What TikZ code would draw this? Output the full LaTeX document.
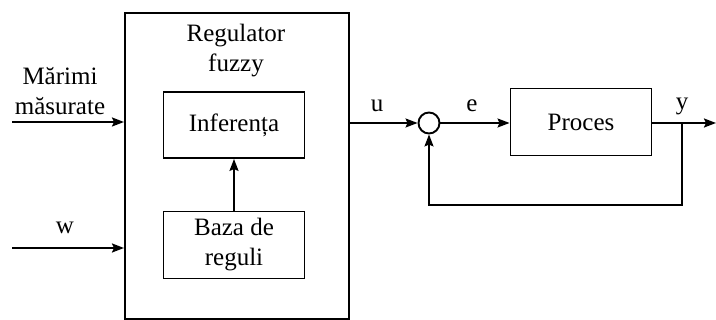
\documentclass[tikz,border=0pt]{standalone}
\usepackage{fontspec}
\setmainfont{Liberation Serif}
\usetikzlibrary{arrows.meta,positioning}
\begin{document}
\begin{tikzpicture}[x=1pt,y=-1pt,
  every node/.style={font=\fontsize{25}{30}\selectfont, inner sep=0pt},
  blk/.style={draw, line width=1.9pt},
  lbl/.style={align=center},
  conn/.style={line width=1.9pt},
  arr/.style={conn, -{Stealth[length=12pt,width=9pt,inset=2pt]}}]
\useasboundingbox (0,0) rectangle (716,320);
% big regulator box
\node[blk, minimum width=224pt, minimum height=306pt, anchor=north west] (reg) at (124,12) {};
\node[lbl] (title) at (236,51) {Regulator\\fuzzy};
\node[blk, minimum width=141pt, minimum height=66pt] (inf) at (234,125) {Inferența};
\node[blk, minimum width=141pt, minimum height=67pt, align=center] (baza) at (234,245) {Baza de\\reguli};
\draw[arr] (baza.north) -- (inf.south);
% inputs
\node[lbl] (mm) at (60,91) {Mărimi\\măsurate};
\coordinate (in1) at (12,122);
\draw[arr] (in1) -- (in1 -| reg.west);
\node (w) at (65,228) {w};
\coordinate (in2) at (12,248);
\draw[arr] (in2) -- (in2 -| reg.west);
% loop
\node[draw, circle, line width=1.9pt, minimum size=21pt] (sum) at (429,123) {};
\node[blk, minimum width=141pt, minimum height=67pt] (proc) at (581,122) {Proces};
\draw[arr] (sum.west -| reg.east) -- (sum.west);
\node (u) at (377,106) {u};
\draw[arr] (sum.east) -- (sum.east -| proc.west);
\node (e) at (472,106) {e};
\coordinate (out) at (716,123);
\coordinate (br) at (682,123);
\draw[arr] (sum.east -| proc.east) -- (out);
\node (y) at (682,106) {y};
\coordinate (fb) at (682,205);
\draw[arr] (br) -- (fb) -| (sum.south);
\end{tikzpicture}
\end{document}
